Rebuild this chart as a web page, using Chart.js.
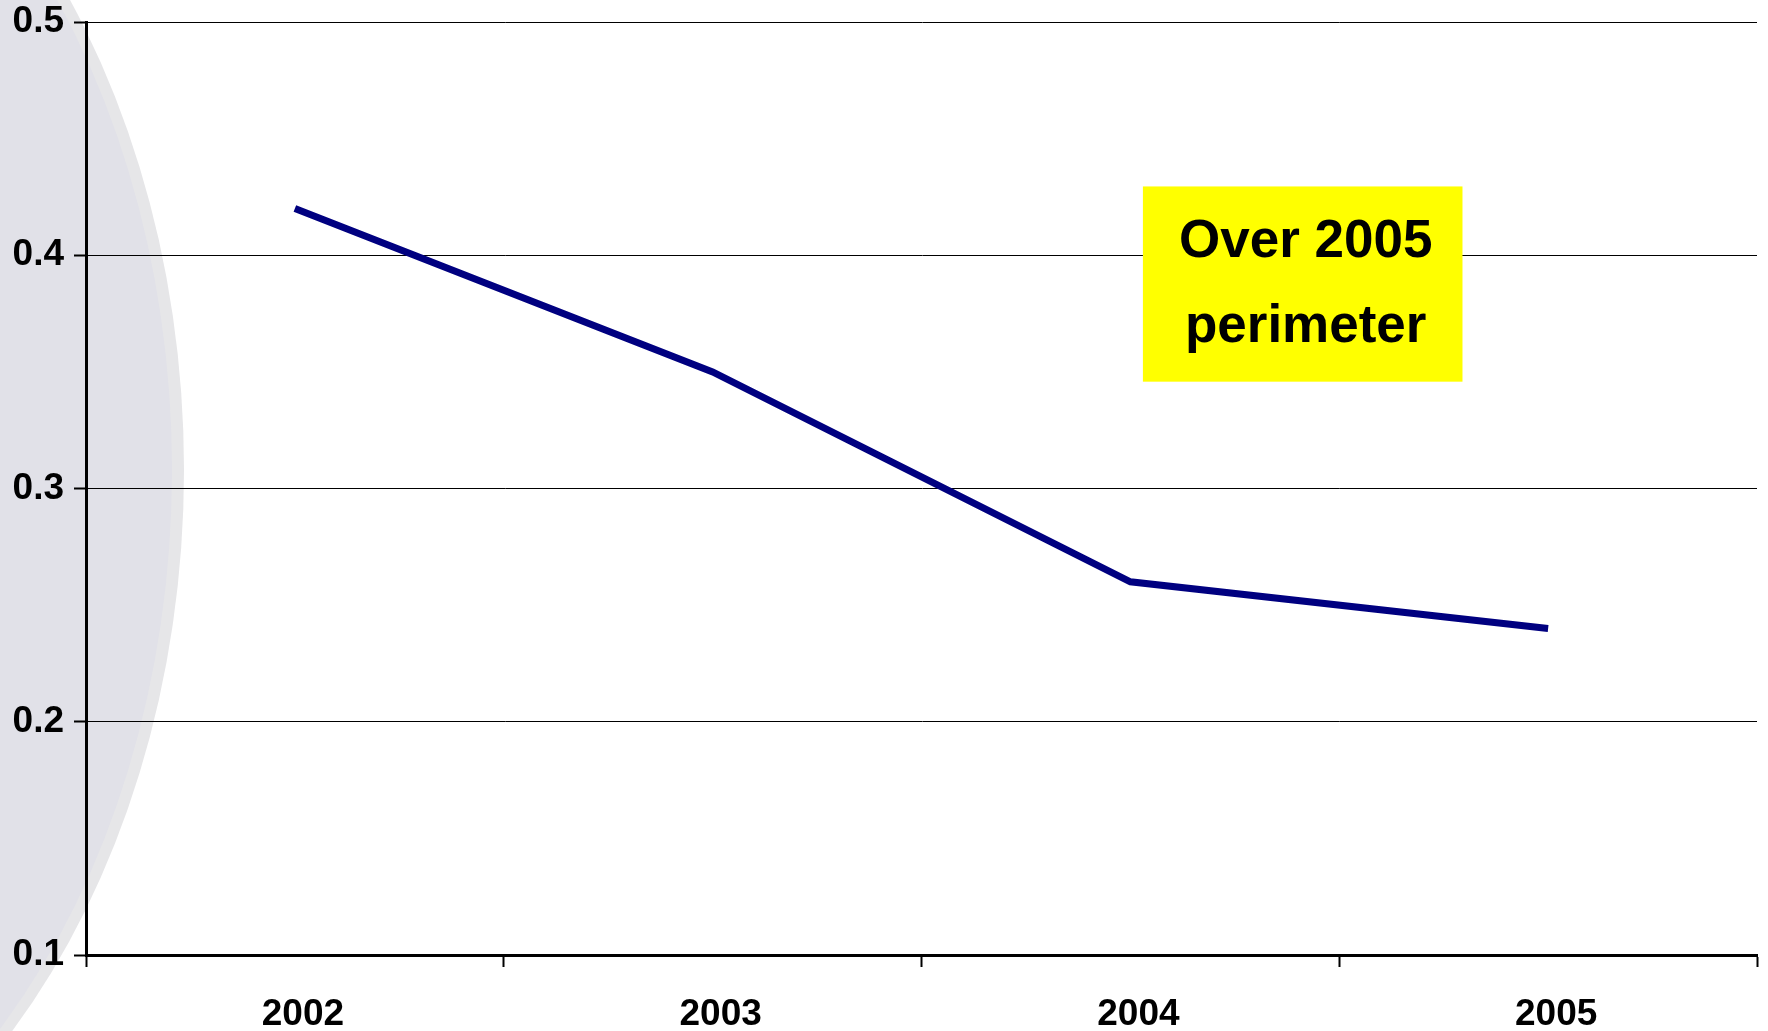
<!DOCTYPE html>
<html>
<head>
<meta charset="utf-8">
<script src="https://cdn.jsdelivr.net/npm/chart.js@4/dist/chart.umd.min.js"></script>
<style>
  html, body { margin: 0; padding: 0; background: #ffffff; }
  #wrap { width: 1768px; height: 1031px; }
</style>
</head>
<body>
<div id="wrap"><canvas id="c" width="1768" height="1031"></canvas></div>
<script>
// Years on the horizontal axis
const years = ['2002', '2003', '2004', '2005'];
// Ratio per year
const ratio = [0.42, 0.35, 0.26, 0.24];
// Vertical axis range and step
const yMin = 0.1;
const yMax = 0.5;
const yStep = 0.1;
// Callout text
const noteLines = ['Over 2005', 'perimeter'];

const FONT = '"Liberation Sans", Arial, Helvetica, sans-serif';

// Soft grey oval behind the plot on the left side
const backdrop = {
  id: 'backdrop',
  beforeDraw(chart) {
    const ctx = chart.ctx;
    ctx.save();
    ctx.fillStyle = '#e6e6e8';
    ctx.beginPath();
    ctx.ellipse(-400, 470, 584, 792, 0, 0, Math.PI * 2);
    ctx.fill();
    ctx.fillStyle = '#e1e1e8';
    ctx.beginPath();
    ctx.ellipse(-400, 470, 572, 782, 0, 0, Math.PI * 2);
    ctx.fill();
    ctx.restore();
  }
};

// Yellow callout box, placed in axis units
const callout = {
  id: 'callout',
  afterDatasetsDraw(chart) {
    const { ctx, scales } = chart;
    const x0 = scales.x.getPixelForValue(2.03);
    const x1 = scales.x.getPixelForValue(2.795);
    const y0 = scales.y.getPixelForValue(0.4295);
    const y1 = scales.y.getPixelForValue(0.3458);
    ctx.save();
    ctx.fillStyle = '#ffff00';
    ctx.fillRect(x0, y0, x1 - x0, y1 - y0);
    ctx.fillStyle = '#000000';
    ctx.font = 'bold 53px ' + FONT;
    ctx.textAlign = 'center';
    ctx.textBaseline = 'middle';
    const cx = (x0 + x1) / 2 + 3;
    const cy = (y0 + y1) / 2;
    ctx.fillText(noteLines[0], cx, cy - 42);
    ctx.fillText(noteLines[1], cx, cy + 43);
    ctx.restore();
  }
};

new Chart(document.getElementById('c'), {
  type: 'line',
  data: {
    labels: years,
    datasets: [{
      data: ratio,
      borderColor: '#000080',
      borderWidth: 7,
      pointRadius: 0,
      pointHoverRadius: 0,
      tension: 0,
      fill: false
    }]
  },
  options: {
    responsive: false,
    animation: false,
    events: [],
    layout: { padding: { top: 22, right: 11, left: 0, bottom: 0 } },
    plugins: {
      legend: { display: false },
      tooltip: { enabled: false }
    },
    scales: {
      x: {
        type: 'category',
        offset: true,
        grid: {
          offset: true,
          drawOnChartArea: false,
          drawTicks: true,
          tickLength: 12,
          tickColor: '#000000',
          tickWidth: 2
        },
        border: { display: true, color: '#000000', width: 3 },
        ticks: {
          color: '#000000',
          padding: 26,
          labelOffset: 8,
          font: { family: FONT, size: 37, weight: 'bold' },
          maxRotation: 0
        },
        afterFit(scale) {
          scale.height = 76;
          scale.paddingLeft = 0;
          scale.paddingRight = 0;
        }
      },
      y: {
        min: yMin,
        max: yMax,
        grid: {
          color: '#000000',
          lineWidth: 1,
          drawTicks: true,
          tickLength: 12,
          tickColor: '#000000',
          tickWidth: 2
        },
        border: { display: true, color: '#000000', width: 3 },
        ticks: {
          stepSize: yStep,
          color: '#000000',
          padding: 10,
          font: { family: FONT, size: 37, weight: 'bold' },
          callback: (v) => Number(v).toFixed(1)
        },
        afterFit(scale) {
          scale.width = 86;
          scale.paddingTop = 0;
          scale.paddingBottom = 0;
        }
      }
    }
  },
  plugins: [backdrop, callout]
});
</script>
</body>
</html>
